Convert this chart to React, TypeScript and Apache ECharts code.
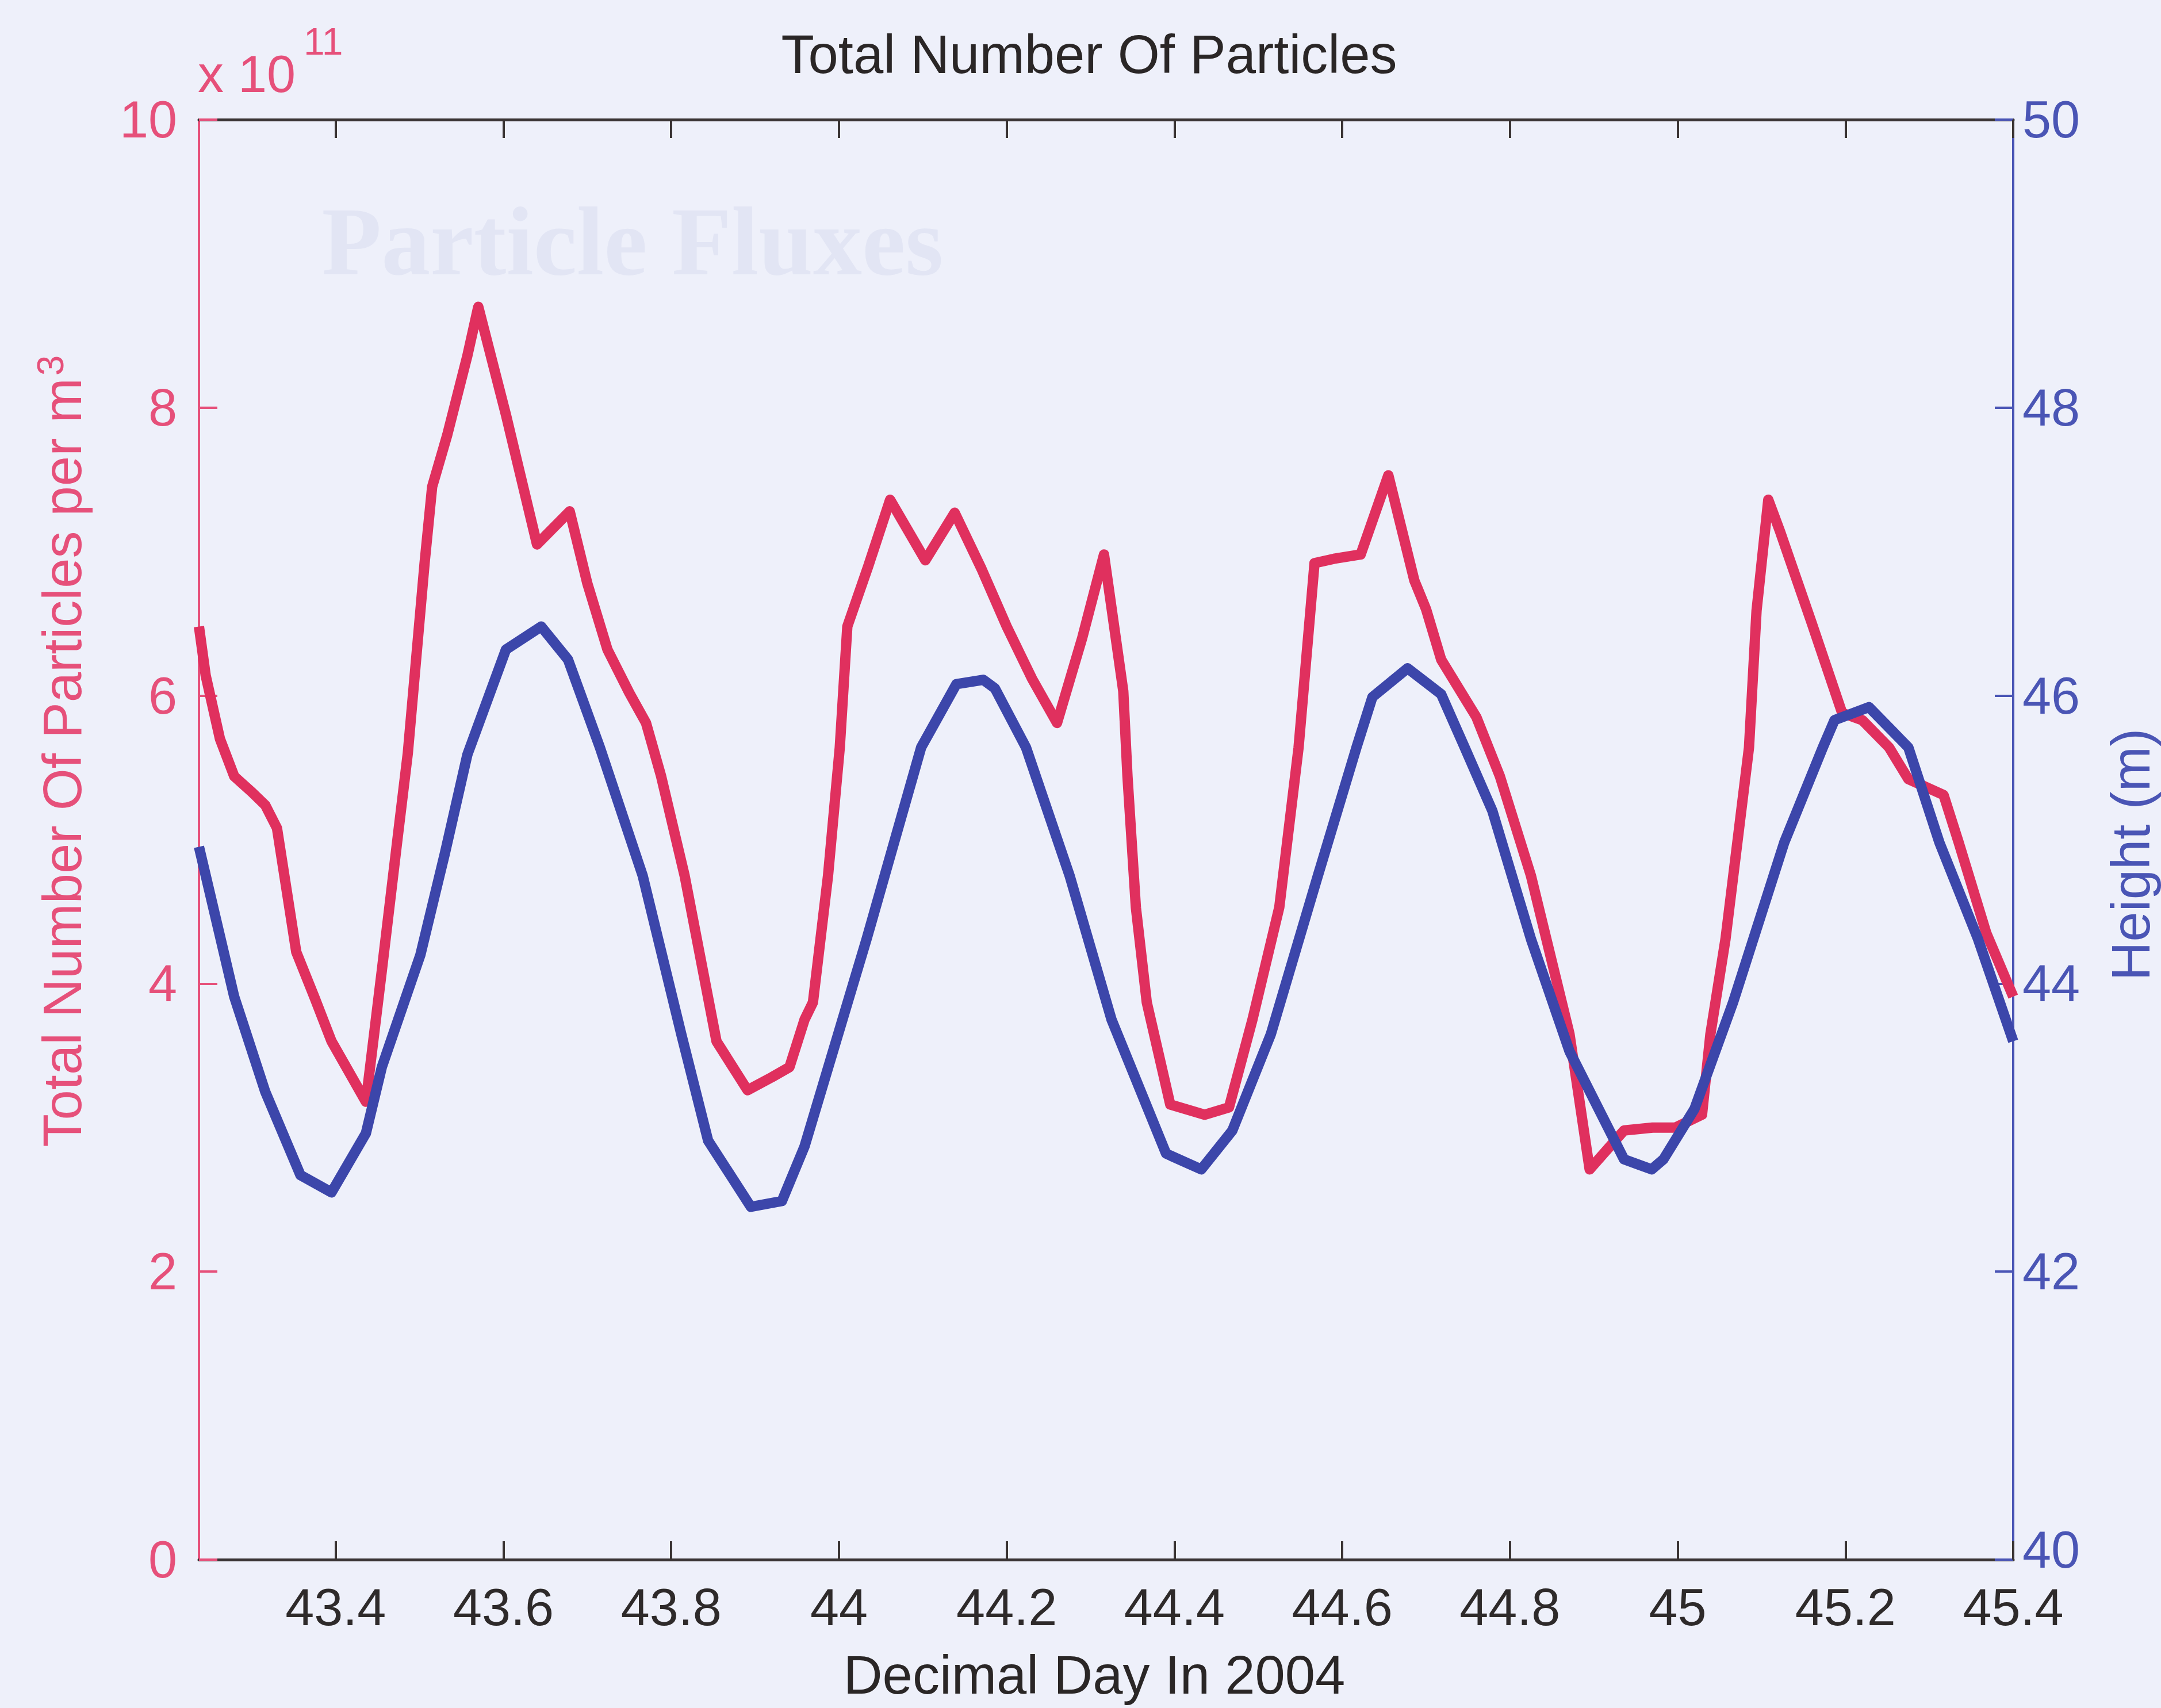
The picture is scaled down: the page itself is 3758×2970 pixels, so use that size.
import React, { useEffect, useRef } from "react";
import * as echarts from "echarts";

// ---- data ----
const RED_DAYS = [
  43.237, 43.245, 43.262, 43.279, 43.300, 43.316, 43.330, 43.353, 43.375, 43.395,
  43.436, 43.455, 43.474, 43.486, 43.506, 43.515, 43.533, 43.557, 43.570, 43.603,
  43.640, 43.679, 43.700, 43.724, 43.750, 43.770, 43.788, 43.816, 43.854, 43.891,
  43.920, 43.941, 43.959, 43.969, 43.987, 44.001, 44.010, 44.035, 44.061, 44.103,
  44.138, 44.170, 44.200, 44.230, 44.260, 44.290, 44.316, 44.339, 44.344, 44.354,
  44.367, 44.395, 44.436, 44.465, 44.493, 44.525, 44.548, 44.567, 44.590, 44.622,
  44.655, 44.686, 44.700, 44.718, 44.760, 44.788, 44.825, 44.871, 44.895, 44.936,
  44.970, 44.997, 45.029, 45.039, 45.057, 45.085, 45.094, 45.108, 45.122, 45.160,
  45.196, 45.220, 45.252, 45.275, 45.317, 45.335, 45.368, 45.400,
];
// Total number of particles per m^3, in units of 1e11
const RED_VALUES = [
  6.48, 6.14, 5.70, 5.44, 5.33, 5.24, 5.08, 4.22, 3.90, 3.60,
  3.18, 4.09, 5.02, 5.60, 6.92, 7.45, 7.81, 8.36, 8.70, 7.95,
  7.05, 7.28, 6.78, 6.32, 6.02, 5.81, 5.44, 4.75, 3.60, 3.26,
  3.35, 3.42, 3.75, 3.87, 4.75, 5.64, 6.48, 6.90, 7.36, 6.94,
  7.27, 6.88, 6.48, 6.12, 5.81, 6.40, 6.98, 6.03, 5.44, 4.53,
  3.87, 3.16, 3.09, 3.14, 3.75, 4.53, 5.64, 6.92, 6.95, 6.98,
  7.53, 6.80, 6.60, 6.25, 5.85, 5.44, 4.75, 3.65, 2.71, 2.98,
  3.00, 3.00, 3.09, 3.65, 4.31, 5.64, 6.59, 7.36, 7.14, 6.50,
  5.88, 5.83, 5.64, 5.42, 5.31, 4.98, 4.35, 3.91,
];

const BLUE_DAYS = [
  43.237, 43.279, 43.316, 43.358, 43.395, 43.436, 43.455, 43.501, 43.530, 43.557,
  43.603, 43.645, 43.677, 43.715, 43.766, 43.812, 43.844, 43.895, 43.932, 43.959,
  44.033, 44.098, 44.140, 44.172, 44.186, 44.223, 44.275, 44.325, 44.390, 44.432,
  44.469, 44.515, 44.571, 44.617, 44.636, 44.678, 44.718, 44.746, 44.779, 44.825,
  44.871, 44.936, 44.969, 44.983, 45.020, 45.066, 45.127, 45.173, 45.187, 45.228,
  45.275, 45.312, 45.358, 45.400,
];
// Height (m)
const BLUE_HEIGHTS = [
  44.95, 43.91, 43.25, 42.67, 42.55, 42.96, 43.42, 44.20, 44.90, 45.59,
  46.32, 46.48, 46.25, 45.64, 44.75, 43.65, 42.91, 42.45, 42.49, 42.87,
  44.31, 45.64, 46.08, 46.11, 46.05, 45.64, 44.75, 43.75, 42.82, 42.71,
  42.98, 43.65, 44.75, 45.64, 45.99, 46.19, 46.01, 45.64, 45.20, 44.31,
  43.53, 42.78, 42.71, 42.78, 43.13, 43.87, 44.98, 45.64, 45.83, 45.92,
  45.64, 44.98, 44.31, 43.60,
];

const X_TICKS = [43.4, 43.6, 43.8, 44, 44.2, 44.4, 44.6, 44.8, 45, 45.2, 45.4];
const LEFT_TICKS = [0, 2, 4, 6, 8, 10];
const RIGHT_TICKS = [40, 42, 44, 46, 48, 50];

const TITLE = "Total Number Of Particles";
const X_NAME = "Decimal Day In 2004";
const LEFT_NAME = "Total Number Of Particles per m";
const RIGHT_NAME = "Height (m)";

// ---- styles ----
const BG = "#eef0fa";
const RED = "#e0305e";
const BLUE = "#3c46aa";
const PINK_TXT = "#e6507a";
const BLUE_TXT = "#4a55b5";
const DARK = "#3a3434";
const FONT = "Liberation Sans, Arial, sans-serif";

export default function App() {
  const ref = useRef<HTMLDivElement | null>(null);

  useEffect(() => {
    if (!ref.current) return;
    const chart = echarts.init(ref.current, null, { renderer: "svg" });

    const xMin = RED_DAYS[0];
    const xMax = X_TICKS[X_TICKS.length - 1];

    const xCommon = {
      type: "value" as const,
      min: xMin,
      max: xMax,
      splitLine: { show: false },
      axisLine: { show: true, onZero: false, lineStyle: { color: DARK, width: 5 } },
      axisTick: {
        show: true,
        inside: true,
        length: 32,
        customValues: X_TICKS,
        lineStyle: { color: DARK, width: 4 },
      },
    };

    const option: any = {
      animation: false,
      backgroundColor: BG,
      textStyle: { fontFamily: FONT },
      grid: { left: 346, right: 257, top: 208, bottom: 258, containLabel: false },
      xAxis: [
        {
          ...xCommon,
          position: "bottom",
          axisLabel: {
            show: true,
            customValues: X_TICKS,
            fontSize: 90,
            lineHeight: 66,
            color: "#2e2a2a",
            margin: 50,
            fontFamily: FONT,
            formatter: (v: number) => String(Math.round(v * 10) / 10),
          },
        },
        {
          ...xCommon,
          position: "top",
          axisLabel: { show: false },
        },
      ],
      yAxis: [
        {
          type: "value",
          position: "left",
          min: LEFT_TICKS[0],
          max: LEFT_TICKS[LEFT_TICKS.length - 1],
          interval: 2,
          splitLine: { show: false },
          axisLine: { show: true, onZero: false, lineStyle: { color: PINK_TXT, width: 4 } },
          axisTick: { show: true, inside: true, length: 32, lineStyle: { color: PINK_TXT, width: 4 } },
          axisLabel: { fontSize: 90, lineHeight: 66, color: PINK_TXT, margin: 38, fontFamily: FONT },
        },
        {
          type: "value",
          position: "right",
          min: RIGHT_TICKS[0],
          max: RIGHT_TICKS[RIGHT_TICKS.length - 1],
          interval: 2,
          splitLine: { show: false },
          axisLine: { show: true, onZero: false, lineStyle: { color: BLUE_TXT, width: 4 } },
          axisTick: { show: true, inside: true, length: 32, lineStyle: { color: BLUE_TXT, width: 4 } },
          axisLabel: {
            fontSize: 90,
            lineHeight: 66,
            color: BLUE_TXT,
            margin: 16,
            fontFamily: FONT,
            formatter: (v: number) => (v === RIGHT_TICKS[0] ? "{lo|" + v + "}" : String(v)),
            rich: {
              lo: {
                fontSize: 90,
                lineHeight: 66,
                color: BLUE_TXT,
                fontFamily: FONT,
                padding: [0, 0, 34, 0],
              },
            },
          },
        },
      ],
      series: [
        {
          name: "Particles",
          type: "line",
          xAxisIndex: 0,
          yAxisIndex: 0,
          data: RED_DAYS.map((d, i) => [d, RED_VALUES[i]]),
          showSymbol: false,
          symbol: "none",
          lineStyle: { color: RED, width: 18, join: "round" },
          z: 3,
        },
        {
          name: "Height",
          type: "line",
          xAxisIndex: 0,
          yAxisIndex: 1,
          data: BLUE_DAYS.map((d, i) => [d, BLUE_HEIGHTS[i]]),
          showSymbol: false,
          symbol: "none",
          lineStyle: { color: BLUE, width: 18, join: "round" },
          z: 4,
        },
      ],
      graphic: [
        {
          type: "text",
          x: 1100,
          y: 420,
          z: -10,
          silent: true,
          style: {
            text: "Particle Fluxes",
            fontSize: 170,
            fontWeight: "bold",
            fontFamily: "Liberation Serif, serif",
            fill: "#e2e5f4",
            align: "center",
            verticalAlign: "middle",
          },
        },
        {
          type: "text",
          x: 1894,
          y: 94,
          style: {
            text: TITLE,
            fontSize: 94,
            fontFamily: FONT,
            fill: "#2a2626",
            align: "center",
            verticalAlign: "middle",
          },
        },
        {
          type: "text",
          x: 1903,
          y: 2912,
          style: {
            text: X_NAME,
            fontSize: 94,
            lineHeight: 80,
            fontFamily: FONT,
            fill: "#2a2626",
            align: "center",
            verticalAlign: "middle",
          },
        },
        {
          type: "text",
          x: 344,
          y: 129,
          style: {
            text: "x 10",
            fontSize: 90,
            fontFamily: FONT,
            fill: PINK_TXT,
            align: "left",
            verticalAlign: "middle",
          },
        },
        {
          type: "text",
          x: 528,
          y: 72,
          style: {
            text: "11",
            fontSize: 66,
            fontFamily: FONT,
            fill: PINK_TXT,
            align: "left",
            verticalAlign: "middle",
          },
        },
        {
          type: "text",
          x: 108,
          y: 1306,
          rotation: Math.PI / 2,
          style: {
            text: LEFT_NAME + "{s|3}",
            fontSize: 94,
            fontFamily: FONT,
            fill: PINK_TXT,
            align: "center",
            verticalAlign: "middle",
            rich: {
              s: {
                fontSize: 64,
                fontFamily: FONT,
                fill: PINK_TXT,
                verticalAlign: "top",
                padding: [0, 0, 40, 4],
              },
            },
          },
        },
        {
          type: "text",
          x: 3705,
          y: 1486,
          rotation: Math.PI / 2,
          style: {
            text: RIGHT_NAME,
            fontSize: 94,
            fontFamily: FONT,
            fill: BLUE_TXT,
            align: "center",
            verticalAlign: "middle",
          },
        },
      ],
    };

    chart.setOption(option);
    return () => chart.dispose();
  }, []);

  return (
    <div
      ref={ref}
      style={{ position: "absolute", left: 0, top: 0, width: 3758, height: 2970 }}
    />
  );
}
